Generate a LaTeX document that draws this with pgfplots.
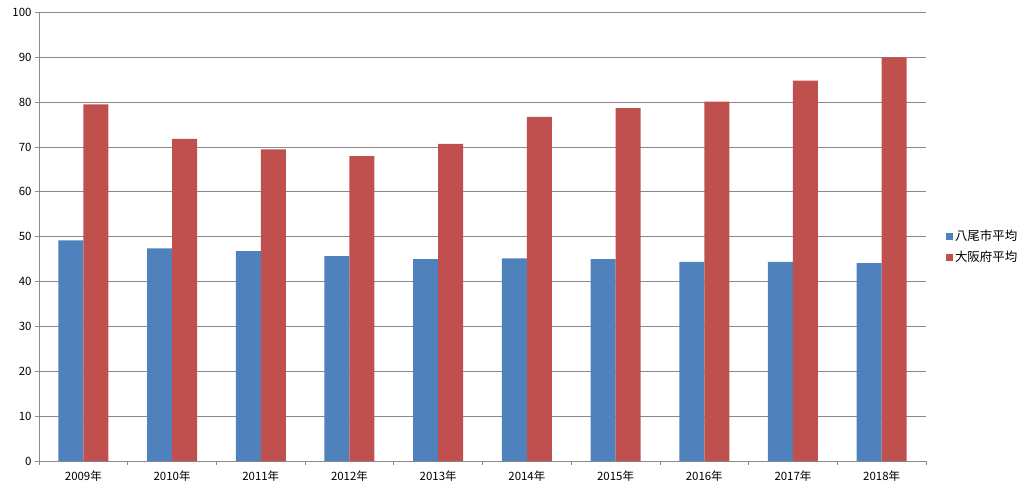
\documentclass[border=0pt]{standalone}
\usepackage{pgfplots}
\pgfplotsset{compat=1.18}
\usepackage{fontspec}
\setmainfont{Noto Sans CJK JP}
\definecolor{bblue}{HTML}{4F81BD}
\definecolor{rred}{HTML}{C0504D}
\definecolor{gridc}{HTML}{8A8A8A}
\begin{document}
\begin{tikzpicture}
\useasboundingbox (0,0) rectangle (1024bp,492bp);
\begin{axis}[
  at={(39bp,31bp)}, anchor=south west,
  scale only axis, width=887bp, height=448.5bp,
  ybar=0pt, bar width=25bp,
  xmin=-0.5, xmax=9.5, ymin=0, ymax=100,
  ytick={0,10,...,100},
  xtick={0,...,9},
  xticklabels={2009年,2010年,2011年,2012年,2013年,2014年,2015年,2016年,2017年,2018年},
  minor xtick={-0.5,0.5,...,9.5},
  major x tick style={draw=none},
  minor tick length=4bp, major tick length=4bp,
  tick align=outside,
  tick style={gridc, line width=0.8pt},
  axis x line*=bottom, axis y line*=left,
  axis line style={gridc, line width=0.9pt},
  ymajorgrids, major grid style={gridc, line width=0.8pt},
  x axis line style={-}, y axis line style={-},
  /pgf/number format/assume math mode=true,
  tick label style={font=\fontsize{11.5}{13}\selectfont},
  xticklabel style={yshift=-2bp},
  legend style={at={(1.019,0.478)}, anchor=west, draw=none, fill=none,
    font=\fontsize{12.5}{14}\selectfont, row sep=5bp,
    /tikz/every even column/.append style={column sep=2bp}},
  legend cell align=left,
  legend image code/.code={\fill[#1] (0bp,-3.5bp) rectangle (7bp,3.5bp);},
  clip=false,
]
\addplot[fill=bblue, draw=none] coordinates {(0,49.2) (1,47.4) (2,46.8) (3,45.7) (4,45.0) (5,45.2) (6,45.0) (7,44.4) (8,44.4) (9,44.1)};
\addplot[fill=rred, draw=none] coordinates {(0,79.5) (1,71.8) (2,69.5) (3,68.0) (4,70.7) (5,76.7) (6,78.7) (7,80.1) (8,84.8) (9,90.0)};
\legend{八尾市平均,大阪府平均}
\end{axis}
\end{tikzpicture}
\end{document}
